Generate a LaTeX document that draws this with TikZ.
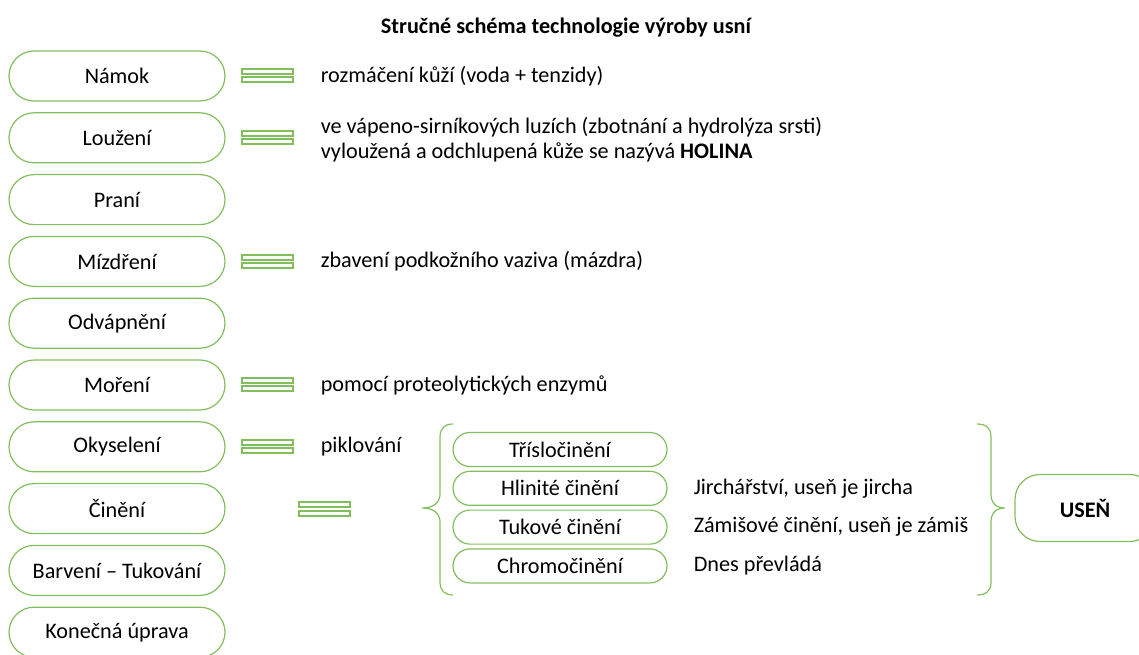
\documentclass[tikz,border=0pt]{standalone}
\usepackage{fontspec}
\setmainfont{Carlito}
\usetikzlibrary{positioning}
\definecolor{leafgreen}{RGB}{131,190,94}

\begin{document}
\begin{tikzpicture}[x=1pt,y=-1pt,
  font=\fontsize{22.2}{24.5}\selectfont,
  stepbox/.style={draw=leafgreen,line width=1.2pt,rounded corners=25pt,
    minimum width=216pt,minimum height=50pt,inner sep=0pt},
  tanbox/.style={draw=leafgreen,line width=1.2pt,rounded corners=17pt,
    minimum width=214pt,minimum height=34pt,inner sep=0pt},
  note/.style={anchor=west,inner sep=0pt,align=left},
  eqbar/.style={draw=leafgreen,line width=1.2pt},
  bracket/.style={draw=leafgreen,line width=1.2pt}]
\useasboundingbox (0,0) rectangle (1139,655);
\node[font=\bfseries\fontsize{22.2}{24.5}\selectfont] (title) at (566,28)
  {Stručné schéma technologie výroby usní};
% hlavni kroky
\foreach \name/\txt [count=\i] in {namok/Námok,louzeni/Loužení,prani/Praní,
    mizdreni/Mízdření,odvapneni/Odvápnění,moreni/Moření,okyseleni/Okyselení,
    cineni/Činění,barveni/Barvení – Tukování,uprava/Konečná úprava}
  \node[stepbox] (\name) at (117,{76+61.8*(\i-1)}) {\txt};
\foreach \yy in {76,138,262,385,447}
  \draw[eqbar] (242,\yy-7) rectangle (293,\yy-2) (242,\yy+1) rectangle (293,\yy+6);
\node[note,right=95pt of namok] (namoknote) {rozmáčení kůží (voda + tenzidy)};
\node[note,right=95pt of louzeni,yshift=-2pt] (louzeninote)
  {ve vápeno-sirníkových luzích (zbotnání a hydrolýza srsti)\\
   vyloužená a odchlupená kůže se nazývá \textbf{HOLINA}};
\node[note,right=95pt of mizdreni] (mizdreninote) {zbavení podkožního vaziva (mázdra)};
\node[note,right=95pt of moreni] (morenínote) {pomocí proteolytických enzymů};
\node[note,right=95pt of okyseleni] (okyseleninote) {piklování};
% cineni
\draw[eqbar] (299,502) rectangle (350,507) (299,511) rectangle (350,516);
\foreach \name/\txt [count=\i] in {trislo/Třísločinění,hlinite/Hlinité činění,
    tukove/Tukové činění,chromo/Chromočinění}
  \node[tanbox] (\name) at (560,{449.5+38.8*(\i-1)}) {\txt};
\draw[bracket] (453,424) .. controls (445,424) and (440,428) .. (440,437)
  -- (440,494) .. controls (440,503) and (433,508) .. (422,508)
  .. controls (433,508) and (440,513) .. (440,522)
  -- (440,582) .. controls (440,591) and (445,595) .. (453,595);
\node[note,right=26pt of hlinite] (hlinitenote) {Jirchářství, useň je jircha};
\node[note,right=26pt of tukove] (tukovenote) {Zámišové činění, useň je zámiš};
\node[note,right=26pt of chromo] (chromonote) {Dnes převládá};
\draw[bracket] (977,424) .. controls (986,424) and (991,428) .. (991,437)
  -- (991,494) .. controls (991,503) and (996,508) .. (1005,508)
  .. controls (996,508) and (991,513) .. (991,522)
  -- (991,582) .. controls (991,591) and (986,595) .. (977,595);
\node[stepbox,minimum width=140pt,minimum height=67pt,
  font=\bfseries\fontsize{22.2}{24.5}\selectfont] (usen) at (1085,508) {USEŇ};
\end{tikzpicture}
\end{document}
